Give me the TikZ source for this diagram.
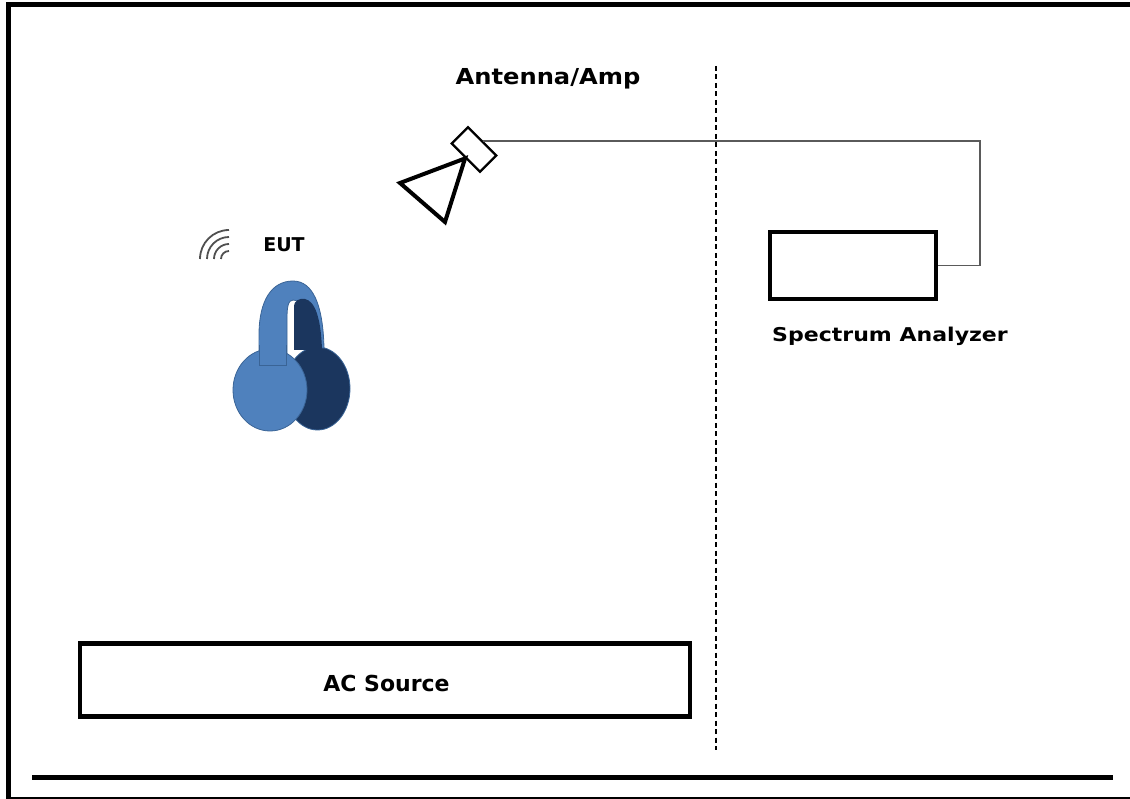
\documentclass[tikz,border=0pt]{standalone}
\usepackage{fontspec}
\setmainfont{DejaVu Sans}
\usetikzlibrary{calc}
\definecolor{hpLight}{HTML}{4F81BD}
\definecolor{hpLine}{HTML}{3A6496}
\definecolor{hpDark}{HTML}{1B365E}
\definecolor{cableGray}{HTML}{5A5A5A}
\definecolor{waveGray}{HTML}{505050}
\tikzset{
  lbl/.style={font=\bfseries\fontsize{22}{24}\selectfont, inner sep=0pt, anchor=base},
  lblS/.style={font=\bfseries\fontsize{19}{21}\selectfont, inner sep=0pt, anchor=base},
  boxA/.style={draw=black, line width=3.4pt, inner sep=0pt},
  cable/.style={draw=cableGray, line width=1.9pt},
  sep/.style={draw=black, line width=1.4pt, dash pattern=on 5pt off 3.5pt},
}
\begin{document}
\begin{tikzpicture}[x=1pt,y=-1pt]
\useasboundingbox (0,0) rectangle (1130,799);
% frame
\draw[line width=5pt] (8,799) -- (8,5) -- (1130,5);
\draw[line width=2.4pt] (8,798) -- (1130,798);
\draw[line width=5pt] (32,777) -- (1113,777);
% dashed separator
\coordinate (dTop) at (716,66);
\coordinate (dBot) at (716,750);
\draw[sep] (dTop) -- (dBot);
% antenna/amp
\node[draw=black, line width=2.3pt, rotate=-45, minimum width=40pt, minimum height=23pt, inner sep=0pt] (amp) at (474,149.5) {};
\coordinate (horn1) at (400,183);
\coordinate (horn2) at (445,222);
\draw[line width=4pt, line join=miter] (amp.south) -- (horn1) -- (horn2) -- cycle;
\node[lbl] (antlbl) at (548,84.5) {\scalebox{1.1}[1]{Antenna/Amp}};
% spectrum analyzer
\node[boxA, minimum width=166pt, minimum height=67pt] (sa) at (853,265.5) {};
\node[lblS] (salbl) at (890,341.5) {\scalebox{1.16}[1]{Spectrum Analyzer}};
\coordinate (corner) at (980,0);
\draw[cable] (amp.north) -- (amp.north -| corner) -- (corner |- sa.east) -- (sa.east);
% AC source
\node[boxA, line width=4.5pt, minimum width=610pt, minimum height=73pt] (ac) at (385,680) {};
\node[lbl] (aclbl) at (386.5,691) {AC Source};
% EUT label and wireless icon
\node[lblS] (eut) at (284,251.7) {EUT};
\coordinate (wave) at (229,259);
\foreach \r in {8,15,22,29}{
  \draw[waveGray, line width=1.8pt] ($(wave)+(-\r,0)$) arc[start angle=180, end angle=270, radius=\r];
}
% headphones
\draw[hpLine, fill=hpDark, line width=0.8pt] (317.5,388.5) ellipse[x radius=32.5, y radius=41.5];
\path[fill=hpLight, draw=hpLine, line width=0.8pt]
  (259,365) -- (259,335) .. controls (259,300) and (272,281) .. (293,281)
  .. controls (313,281) and (323,305) .. (324,348) -- (316,348)
  .. controls (315,320) and (306,300) .. (293,300)
  .. controls (288,300) and (287,308) .. (287,318) -- (287,365) -- cycle;
\path[fill=hpDark]
  (294,350) -- (294,306) .. controls (294,301) and (299,298) .. (305,299)
  .. controls (315,301) and (321,318) .. (322,350) -- cycle;
\draw[hpLine, fill=hpLight, line width=0.8pt] (270,390) ellipse[x radius=37, y radius=41];
\fill[hpLight] (259,340) rectangle (286,365);
\draw[hpLine, line width=0.8pt] (259,345) -- (259,365) -- (286,365) -- (286,345);
\end{tikzpicture}
\end{document}
